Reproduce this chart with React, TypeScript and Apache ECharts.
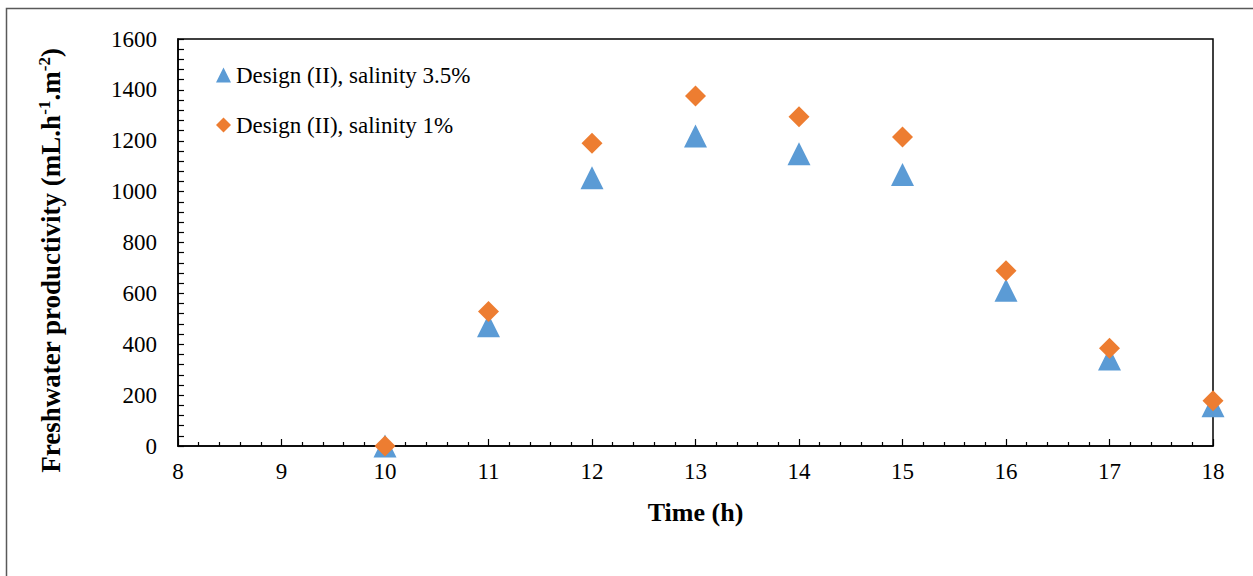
import React, { useEffect, useRef } from "react";
import * as echarts from "echarts";

const hours = [10, 11, 12, 13, 14, 15, 16, 17, 18];
const salinity35 = [0, 473, 1055, 1219, 1149, 1067, 612, 342, 158];
const salinity1 = [0, 529, 1190, 1376, 1294, 1215, 689, 384, 178];
const seriesNames = ["Design (II), salinity 3.5%", "Design (II), salinity 1%"];

const FONT = "Liberation Serif";

export default function App() {
  const ref = useRef<HTMLDivElement>(null);
  useEffect(() => {
    const chart = echarts.init(ref.current!, null, { renderer: "svg" });
    const tri = hours.map((h, i) => [h, salinity35[i]]);
    const dia = hours.map((h, i) => [h, salinity1[i]]);
    chart.setOption({
      animation: false,
      backgroundColor: "#fff",
      textStyle: { fontFamily: FONT },
      graphic: [
        {
          type: "rect",
          shape: { x: 6.5, y: 8.5, width: 1400, height: 800 },
          style: { fill: "none", stroke: "#595959", lineWidth: 1.5 },
          silent: true,
        },
      ],
      grid: {
        left: 178,
        top: 39,
        right: 40,
        bottom: 130,
        show: true,
        borderColor: "#000",
        borderWidth: 1.5,
        backgroundColor: "transparent",
      },
      legend: {
        orient: "vertical",
        left: 216,
        top: 62,
        padding: 0,
        itemWidth: 15,
        itemHeight: 15,
        itemGap: 24,
        data: seriesNames,
        textStyle: { fontFamily: FONT, fontSize: 23, color: "#000", lineHeight: 26 },
      },
      xAxis: {
        type: "value",
        min: 8,
        max: 18,
        interval: 1,
        name: "Time (h)",
        nameLocation: "middle",
        nameGap: 53,
        nameTextStyle: { fontFamily: FONT, fontSize: 26, fontWeight: "bold", color: "#000" },
        axisLine: { lineStyle: { color: "#000", width: 1.5 } },
        axisTick: { inside: true, length: 7, lineStyle: { color: "#000", width: 1.2 } },
        minorTick: { show: true, splitNumber: 5, length: 4, lineStyle: { color: "#000", width: 1.2 } },
        splitLine: { show: false },
        axisLabel: { fontFamily: FONT, fontSize: 23, color: "#000", margin: 14, formatter: (v: number) => String(v) },
      },
      yAxis: {
        type: "value",
        min: 0,
        max: 1600,
        interval: 200,
        name: "{b|Freshwater productivity (mL.h}{s|-1}{b|.m}{s|-2}{b|)}",
        nameLocation: "middle",
        nameGap: 112,
        nameTextStyle: {
          fontFamily: FONT,
          fontSize: 27,
          fontWeight: "bold",
          color: "#000",
          padding: [0, 36, 0, 0],
          rich: {
            b: { fontFamily: FONT, fontSize: 27, fontWeight: "bold", color: "#000", lineHeight: 30 },
            s: { fontFamily: FONT, fontSize: 17, fontWeight: "bold", color: "#000", lineHeight: 16, verticalAlign: "top" },
          },
        },
        axisLine: { show: true, lineStyle: { color: "#000", width: 1.5 } },
        axisTick: { show: true, inside: true, length: 6, lineStyle: { color: "#000", width: 1.2 } },
        minorTick: { show: true, splitNumber: 5, length: 6, lineStyle: { color: "#000", width: 1.2 } },
        splitLine: { show: false },
        axisLabel: { fontFamily: FONT, fontSize: 23, color: "#000", margin: 21, formatter: (v: number) => String(v) },
      },
      series: [
        {
          name: seriesNames[0],
          type: "scatter",
          symbol: "triangle",
          symbolSize: 23,
          clip: false,
          itemStyle: { color: "#5B9BD5", opacity: 1 },
          data: tri,
        },
        {
          name: seriesNames[1],
          type: "scatter",
          symbol: "diamond",
          symbolSize: 21,
          clip: false,
          itemStyle: { color: "#ED7D31", opacity: 1 },
          data: dia,
        },
      ],
    });
    return () => chart.dispose();
  }, []);
  return (
    <div
      ref={ref}
      style={{ position: "fixed", left: 0, top: 0, width: 1253, height: 576 }}
    />
  );
}
